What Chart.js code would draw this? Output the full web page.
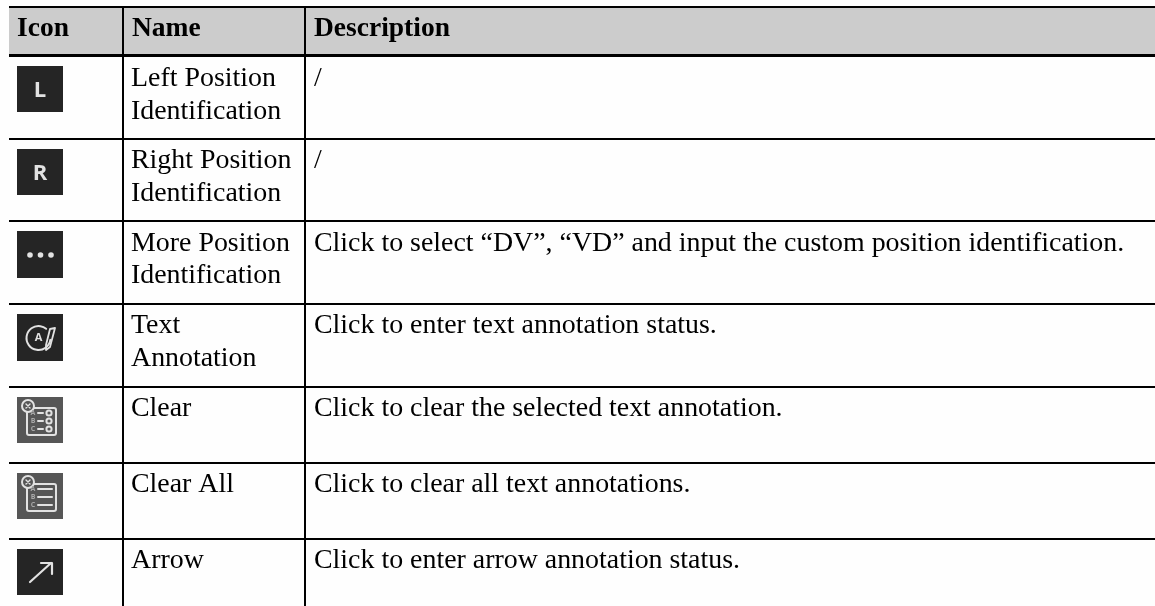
<!DOCTYPE html>
<html>
<head>
<meta charset="utf-8">
<style>
  html, body { margin: 0; padding: 0; background: #fefefe; overflow: hidden; }
  canvas { display: block; }
</style>
<script src="https://cdn.jsdelivr.net/npm/chart.js@4"></script>
</head>
<body>
<canvas id="table" width="1155" height="606"></canvas>
<script>
// ===== Table content =====
const headers = ["Icon", "Name", "Description"];
const icons = ["L", "R", "more", "text", "clear", "clearAll", "arrow"];
const names = [
    ["Left Position", "Identification"],
    ["Right Position", "Identification"],
    ["More Position", "Identification"],
    ["Text", "Annotation"],
    ["Clear"],
    ["Clear All"],
    ["Arrow"]
];
const descriptions = [
    "/",
    "/",
    "Click to select \u201cDV\u201d, \u201cVD\u201d and input the custom position identification.",
    "Click to enter text annotation status.",
    "Click to clear the selected text annotation.",
    "Click to clear all text annotations.",
    "Click to enter arrow annotation status."
];

// ===== Table layout (axis units are canvas pixels) =====
const columnEdges = [123, 305];
const rowEdges = [7, 55.5, 139, 221, 304, 387, 463, 539];
const iconCentres = [89, 172, 254.5, 337.5, 420, 496, 572];
const baselines = [86, 168.3, 250.7, 333.3, 416, 491.7, 567.7];

const FONT = '"Liberation Serif", "Times New Roman", serif';
const DARK = "#252525";
const GREY = "#565656";
const STROKE = "#e2e2e2";

// small square canvas for one icon, used as the point style
function makeIcon(kind) {
    const c = document.createElement("canvas");
    c.width = 46;
    c.height = (kind === "more" || kind === "text") ? 47 : 46;
    const g = c.getContext("2d");
    g.fillStyle = (kind === "clear" || kind === "clearAll") ? GREY : DARK;
    g.fillRect(0, 0, c.width, c.height);
    g.filter = "blur(0.6px)";
    g.strokeStyle = STROKE;
    g.fillStyle = STROKE;
    g.lineCap = "round";
    g.lineJoin = "round";

    if (kind === "L" || kind === "R") {
        g.font = 'bold 22px "Open Sans", sans-serif';
        g.textAlign = "center";
        g.textBaseline = "alphabetic";
        g.fillText(kind, 23, 31);
    } else if (kind === "more") {
        [13, 23.5, 34].forEach(x => {
            g.beginPath();
            g.arc(x, 24, 2.8, 0, Math.PI * 2);
            g.fill();
        });
    } else if (kind === "text") {
        g.lineWidth = 2;
        g.beginPath();
        g.arc(21.5, 24, 12, 0.05 * Math.PI, 1.72 * Math.PI);
        g.stroke();
        g.font = 'bold 11px "Open Sans", sans-serif';
        g.textAlign = "center";
        g.textBaseline = "middle";
        g.fillText("A", 21.5, 24);
        g.lineWidth = 1.8;
        g.beginPath();
        g.moveTo(33, 15);
        g.lineTo(38, 14);
        g.lineTo(33, 33);
        g.lineTo(29, 36);
        g.lineTo(29, 31);
        g.closePath();
        g.stroke();
    } else if (kind === "clear" || kind === "clearAll") {
        g.lineWidth = 2;
        g.beginPath();
        g.moveTo(14, 11);
        g.lineTo(37, 11);
        g.arcTo(39, 11, 39, 13, 2);
        g.lineTo(39, 36);
        g.arcTo(39, 38, 37, 38, 2);
        g.lineTo(12, 38);
        g.arcTo(10, 38, 10, 36, 2);
        g.lineTo(10, 14);
        g.stroke();
        g.fillStyle = GREY;
        g.beginPath();
        g.arc(11, 9, 6, 0, Math.PI * 2);
        g.fill();
        g.stroke();
        g.lineWidth = 1.4;
        g.beginPath();
        g.moveTo(9, 7);
        g.lineTo(13, 11);
        g.moveTo(13, 7);
        g.lineTo(9, 11);
        g.stroke();
        g.font = 'bold 7px "Open Sans", sans-serif';
        g.textAlign = "center";
        g.textBaseline = "middle";
        g.fillStyle = "#a8a8a8";
        g.fillText("A", 16, 16);
        g.fillText("B", 16, 24);
        g.fillText("C", 16, 32);
        g.lineWidth = 2;
        [16, 24, 32].forEach(y => {
            g.beginPath();
            if (kind === "clear") {
                g.moveTo(21, y);
                g.lineTo(26, y);
                g.stroke();
                g.beginPath();
                g.arc(32, y, 2.6, 0, Math.PI * 2);
            } else {
                g.moveTo(21, y);
                g.lineTo(35, y);
            }
            g.stroke();
        });
    } else if (kind === "arrow") {
        g.lineWidth = 2.2;
        g.beginPath();
        g.moveTo(13, 33);
        g.lineTo(34, 14);
        g.moveTo(24, 14);
        g.lineTo(35, 14);
        g.lineTo(35, 25);
        g.stroke();
    }
    return c;
}

// ===== Text and header band, placed through the scales =====
const tableText = {
    id: "tableText",
    // the band has to go down before the grid lines, which are drawn ahead of the datasets
    beforeDraw(chart) {
        const { ctx, scales: { x, y } } = chart;
        ctx.save();
        ctx.fillStyle = "#cccccc";
        ctx.fillRect(x.left, y.getPixelForValue(rowEdges[0]), x.right - x.left,
            y.getPixelForValue(rowEdges[1]) - y.getPixelForValue(rowEdges[0]));
        ctx.restore();
    },
    afterDatasetsDraw(chart) {
        const { ctx, scales: { x, y } } = chart;
        const nameX = x.getPixelForValue(columnEdges[0] + 8);
        const descX = x.getPixelForValue(columnEdges[1] + 9);
        ctx.save();
        ctx.fillStyle = "#000";
        ctx.textBaseline = "alphabetic";

        ctx.font = "bold 27.5px " + FONT;
        ctx.fillText(headers[0], x.getPixelForValue(17), y.getPixelForValue(36));
        ctx.fillText(headers[1], nameX + 1, y.getPixelForValue(36));
        ctx.fillText(headers[2], descX, y.getPixelForValue(36));

        ctx.font = "27.9px " + FONT;
        names.forEach((lines, i) => {
            lines.forEach((line, j) => {
                ctx.fillText(line, nameX, y.getPixelForValue(baselines[i] + j * 32.6));
            });
        });
        descriptions.forEach((d, i) => {
            ctx.fillText(d, descX, y.getPixelForValue(baselines[i]));
        });
        ctx.restore();
    }
};

new Chart(document.getElementById("table"), {
    type: "scatter",
    data: {
        datasets: [{
            data: iconCentres.map(c => ({ x: 40, y: c })),
            pointStyle: icons.map(makeIcon),
            pointRadius: 23,
            pointHoverRadius: 23
        }]
    },
    options: {
        responsive: false,
        animation: false,
        layout: { autoPadding: false, padding: { left: 9, top: 6 } },
        events: [],
        plugins: { legend: { display: false }, tooltip: { enabled: false } },
        scales: {
            x: {
                type: "linear",
                min: 9,
                max: 1155,
                afterBuildTicks: s => { s.ticks = columnEdges.map(v => ({ value: v })); },
                ticks: { display: false },
                border: { display: false },
                grid: { color: "#000", lineWidth: 2, drawTicks: false }
            },
            y: {
                type: "linear",
                reverse: true,
                min: 6,
                max: 606,
                afterBuildTicks: s => { s.ticks = rowEdges.map(v => ({ value: v })); },
                ticks: { display: false },
                border: { display: false },
                grid: {
                    color: "#000",
                    lineWidth: c => c.index === 1 ? 3 : 2,
                    drawTicks: false
                }
            }
        }
    },
    plugins: [tableText]
});
</script>
</body>
</html>
